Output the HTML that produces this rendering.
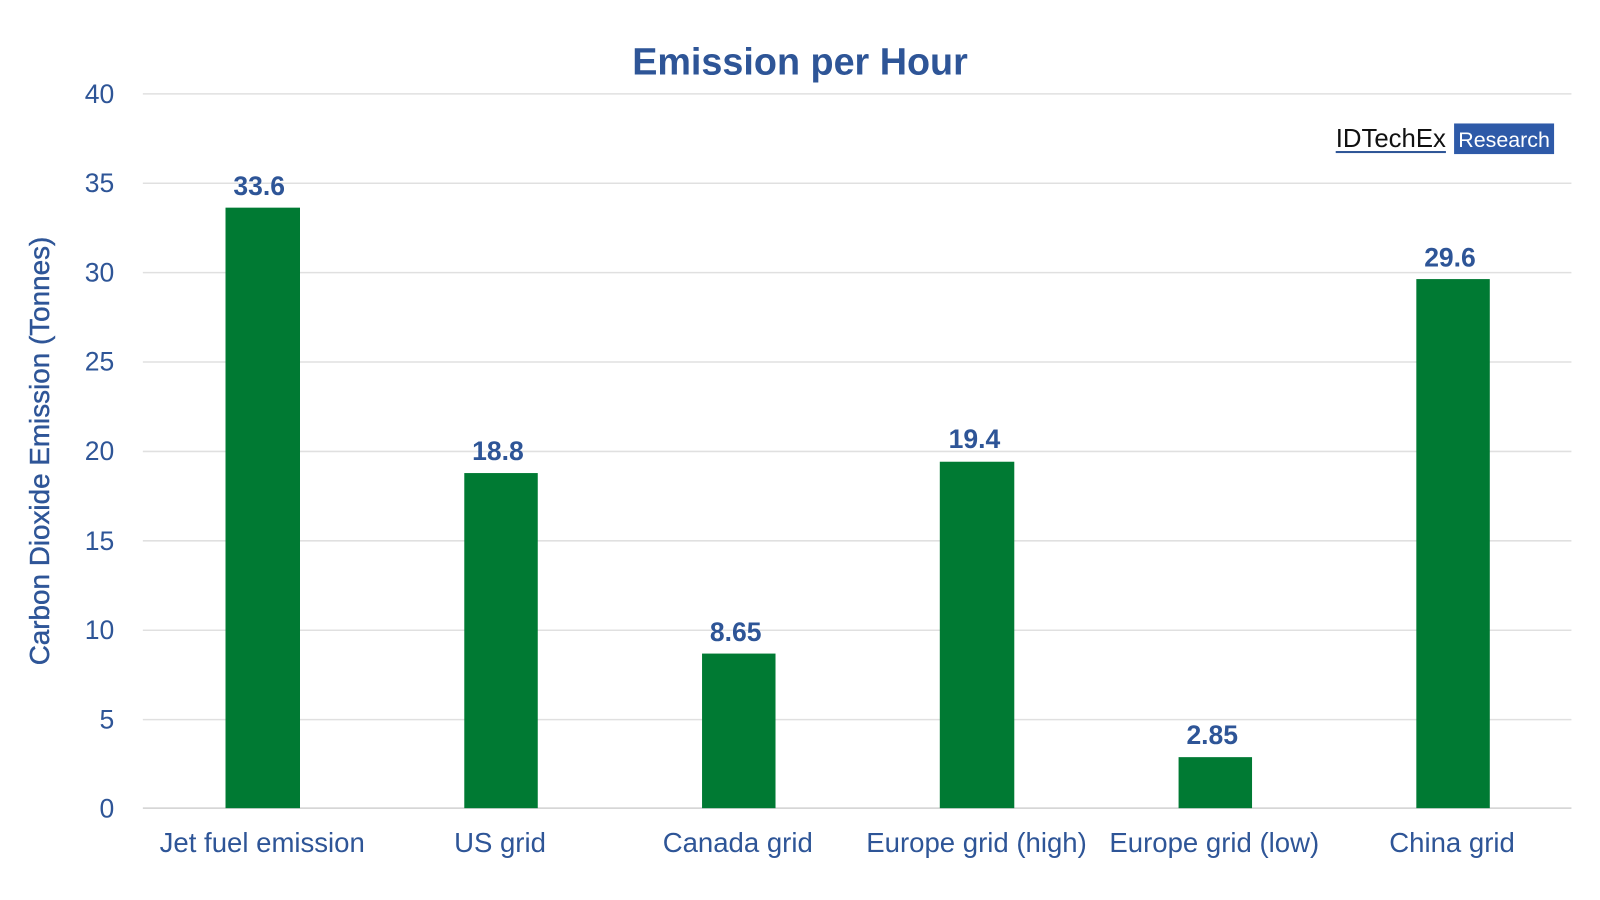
<!DOCTYPE html>
<html><head><meta charset="utf-8"><style>
html,body{margin:0;padding:0;background:#fff;}
svg{display:block;font-family:"Liberation Sans",sans-serif;}
</style></head><body>
<svg width="1600" height="900" viewBox="0 0 1568 882" preserveAspectRatio="none" xmlns="http://www.w3.org/2000/svg">
<rect width="1568" height="882" fill="#fff"/>
<text x="784" y="73" text-anchor="middle" font-size="37" font-weight="bold" fill="#2e5597">Emission per Hour</text>
<g stroke="#e0e0e0" stroke-width="1.5">
<line x1="140" x2="1540" y1="92" y2="92"/>
<line x1="140" x2="1540" y1="179.6" y2="179.6"/>
<line x1="140" x2="1540" y1="267.2" y2="267.2"/>
<line x1="140" x2="1540" y1="354.8" y2="354.8"/>
<line x1="140" x2="1540" y1="442.4" y2="442.4"/>
<line x1="140" x2="1540" y1="530" y2="530"/>
<line x1="140" x2="1540" y1="617.6" y2="617.6"/>
<line x1="140" x2="1540" y1="705.2" y2="705.2"/>
<line x1="140" x2="1540" y1="792" y2="792" stroke="#d0d0d0"/>
</g>
<g font-size="26" fill="#2e5597" text-anchor="end">
<text x="112" y="101">40</text>
<text x="112" y="188">35</text>
<text x="112" y="276">30</text>
<text x="112" y="363">25</text>
<text x="112" y="451">20</text>
<text x="112" y="539">15</text>
<text x="112" y="626">10</text>
<text x="112" y="714">5</text>
<text x="112" y="801">0</text>
</g>
<text transform="translate(48,442) rotate(-90)" text-anchor="middle" font-size="27" fill="#2e5597" stroke="#2e5597" stroke-width="0.4" textLength="420" lengthAdjust="spacingAndGlyphs">Carbon Dioxide Emission (Tonnes)</text>
<g fill="#007a33">
<rect x="221" y="203.5" width="73" height="588.5"/>
<rect x="455" y="463.6" width="72" height="328.4"/>
<rect x="688" y="640.5" width="72" height="151.5"/>
<rect x="921" y="452.5" width="73" height="339.5"/>
<rect x="1155" y="742" width="72" height="50"/>
<rect x="1388" y="273.5" width="72" height="518.5"/>
</g>
<g font-size="26" font-weight="bold" fill="#2e5597" text-anchor="middle">
<text x="254" y="191">33.6</text>
<text x="488" y="451">18.8</text>
<text x="721" y="628">8.65</text>
<text x="955" y="439">19.4</text>
<text x="1188" y="729">2.85</text>
<text x="1421" y="261">29.6</text>
</g>
<g font-size="27" fill="#2e5597" text-anchor="middle">
<text x="257" y="835">Jet fuel emission</text>
<text x="490" y="835">US grid</text>
<text x="723" y="835">Canada grid</text>
<text x="957" y="835">Europe grid (high)</text>
<text x="1190" y="835">Europe grid (low)</text>
<text x="1423" y="835">China grid</text>
</g>
<text x="1309" y="144" font-size="25" fill="#111" textLength="108" lengthAdjust="spacingAndGlyphs">IDTechEx</text>
<rect x="1309" y="148" width="108" height="2" fill="#2e5597"/>
<rect x="1425" y="121" width="98" height="30" fill="#2e5aa8"/>
<text x="1474" y="144" font-size="21" fill="#fff" text-anchor="middle">Research</text>
</svg>
</body></html>
